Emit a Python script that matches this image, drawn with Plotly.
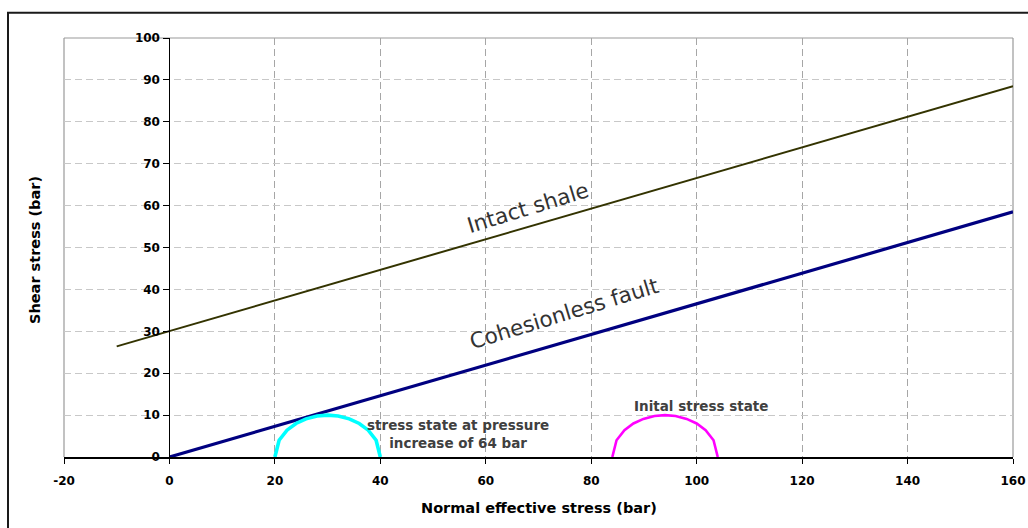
import plotly.graph_objects as go

# ---- data ----
shale_x = [-10, 160]
shale_y = [26.4, 88.5]

fault_x = [0, 160]
fault_y = [0, 58.5]

pressure_x = [20, 20.8, 22.3, 24.0, 25.9, 28.0, 30.0, 32.0, 34.1, 36.0, 37.7, 39.2, 40]
pressure_y = [0, 4.0, 6.4, 8.0, 9.1, 9.8, 10.0, 9.8, 9.1, 8.0, 6.4, 4.0, 0]

initial_x = [84, 84.8, 86.3, 88.0, 89.9, 92.0, 94.0, 96.0, 98.1, 100.0, 101.7, 103.2, 104]
initial_y = [0, 4.0, 6.4, 8.0, 9.1, 9.8, 10.0, 9.8, 9.1, 8.0, 6.4, 4.0, 0]

x_ticks = [-20, 0, 20, 40, 60, 80, 100, 120, 140, 160]
y_ticks = [0, 10, 20, 30, 40, 50, 60, 70, 80, 90, 100]

FONT = "DejaVu Sans, Verdana, sans-serif"

fig = go.Figure()
fig.add_trace(go.Scatter(x=shale_x, y=shale_y, mode="lines",
                         line=dict(color="#333300", width=2), name="Intact shale"))
fig.add_trace(go.Scatter(x=fault_x, y=fault_y, mode="lines",
                         line=dict(color="#000080", width=3.2), name="Cohesionless fault"))
fig.add_trace(go.Scatter(x=pressure_x, y=pressure_y, mode="lines",
                         line=dict(color="#00FFFF", width=3.6), name="pressure"))
fig.add_trace(go.Scatter(x=initial_x, y=initial_y, mode="lines",
                         line=dict(color="#FF00FF", width=2.6), name="initial"))

L, R, T, B = 64, 15, 38, 71
W, H = 1028, 528
pw, ph = W - L - R, H - T - B

fig.update_layout(
    width=W, height=H,
    margin=dict(l=L, r=R, t=T, b=B, autoexpand=False),
    paper_bgcolor="white", plot_bgcolor="white",
    showlegend=False,
    font=dict(family=FONT, color="black"),
    xaxis=dict(
        range=[-20, 160], tickvals=x_ticks, ticktext=[str(v) for v in x_ticks],
        showgrid=True, gridcolor="#a6a6a6", griddash="7px,4px", gridwidth=1,
        zeroline=False, showline=True, linecolor="black", linewidth=1.5,
        ticks="outside", ticklen=5, tickcolor="black", tickwidth=1,
        ticklabelstandoff=7, automargin=False,
        tickfont=dict(family=FONT, size=12, color="black", weight="bold"),
    ),
    yaxis=dict(
        range=[0, 100], tickvals=y_ticks, ticktext=[str(v) for v in y_ticks],
        showgrid=True, gridcolor="#c8c8c8", griddash="7px,4px", gridwidth=1,
        zeroline=False, showline=True, linecolor="black", linewidth=1.2,
        anchor="free", position=20 / 180, side="left",
        ticks="outside", ticklen=6, tickcolor="black", tickwidth=1,
        ticklabelstandoff=1, automargin=False,
        tickfont=dict(family=FONT, size=12, color="black", weight="bold"),
    ),
)

# plot-area frame (gray) on left, top and right
for x0, y0, x1, y1 in [(0, 0, 0, 1), (0, 1, 1, 1), (1, 0, 1, 1)]:
    fig.add_shape(type="line", xref="paper", yref="paper", x0=x0, y0=y0, x1=x1, y1=y1,
                  line=dict(color="#999999", width=1.2), layer="below")

# outer chart frame
fig.add_shape(type="rect", xref="paper", yref="paper",
              x0=(8 - L) / pw, x1=1.05, y0=-0.3, y1=(H - B - 12.7) / ph,
              line=dict(color="#1a1a1a", width=2))

# axis titles
fig.add_annotation(text="Normal effective stress (bar)", xref="paper", yref="paper",
                   x=(539 - L) / pw, y=(H - B - 508) / ph, showarrow=False,
                   xanchor="center", yanchor="middle",
                   font=dict(family=FONT, size=14.5, color="black", weight="bold"))
fig.add_annotation(text="Shear stress (bar)", xref="paper", yref="paper",
                   x=(35 - L) / pw, y=(H - B - 250) / ph, showarrow=False, textangle=-90,
                   xanchor="center", yanchor="middle",
                   font=dict(family=FONT, size=14.5, color="black", weight="bold"))

# in-plot labels
fig.add_annotation(text="Intact shale", x=68.1, y=59.5, showarrow=False, textangle=-17,
                   font=dict(family=FONT, size=21.5, color="#333333"))
fig.add_annotation(text="Cohesionless fault", x=74.8, y=34.2, showarrow=False, textangle=-17,
                   font=dict(family=FONT, size=21.5, color="#333333"))
fig.add_annotation(text="stress state at pressure<br>increase of 64 bar", x=54.8, y=5.5,
                   showarrow=False,
                   font=dict(family=FONT, size=13.5, color="#404040", weight="bold"))
fig.add_annotation(text="Inital stress state", x=100.8, y=12.2, showarrow=False,
                   font=dict(family=FONT, size=13.5, color="#404040", weight="bold"))

fig.write_html("out.html")
